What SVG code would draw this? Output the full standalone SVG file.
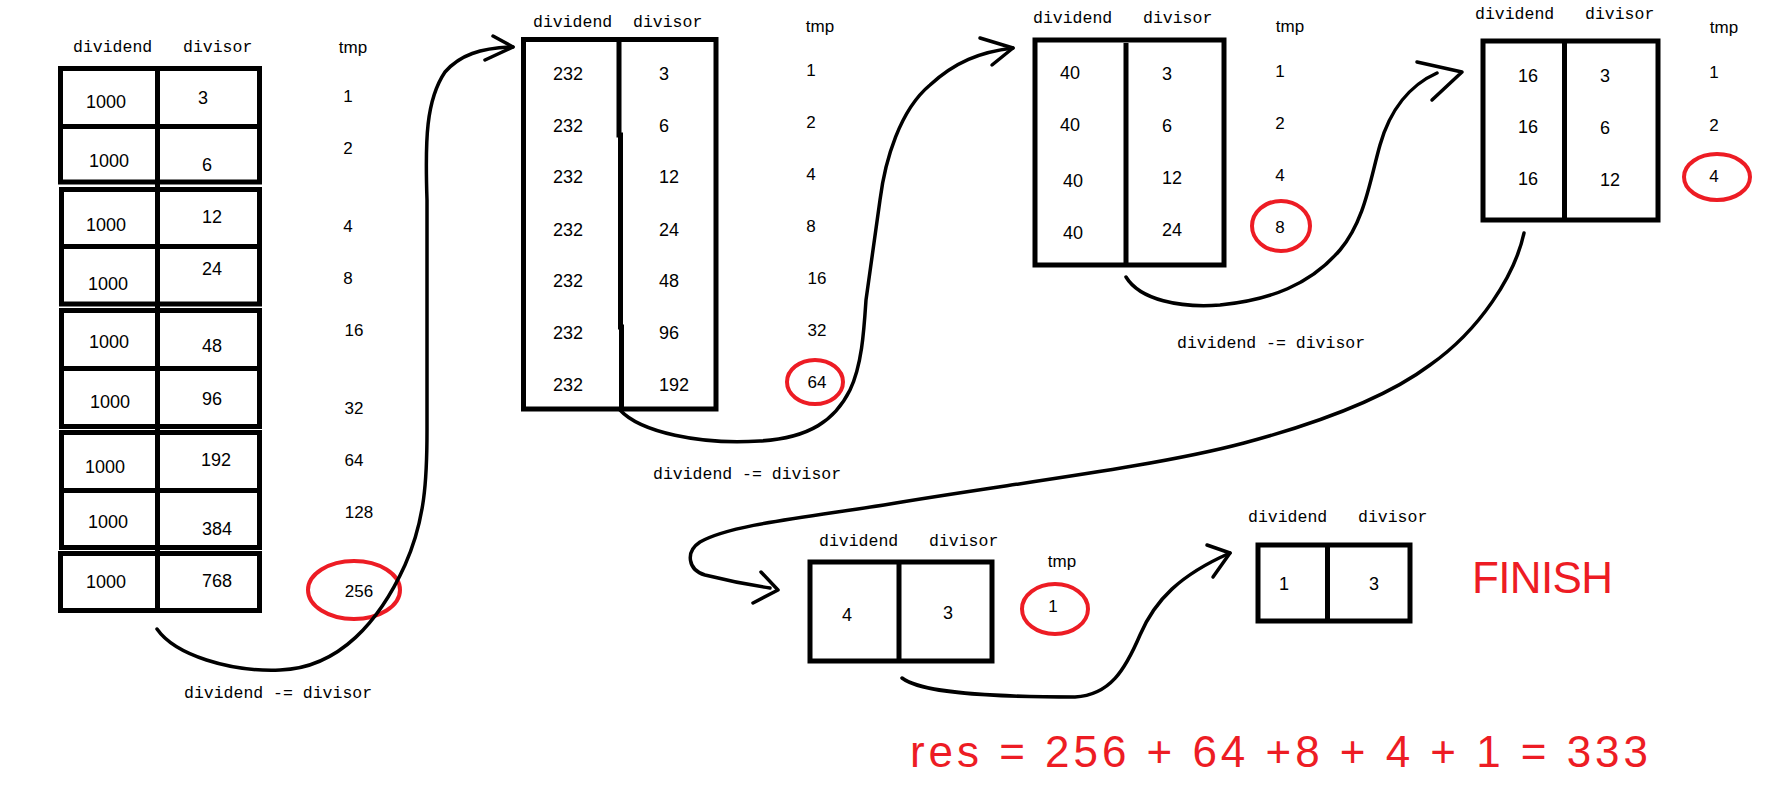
<svg xmlns="http://www.w3.org/2000/svg" width="1771" height="788" viewBox="0 0 1771 788">
<style>
  .bg{fill:#ffffff}
  .box{fill:none;stroke:#000;stroke-width:5}
  .div{stroke:#000;stroke-width:5;fill:none}
  .hdr{font-family:"Liberation Mono","DejaVu Sans Mono",monospace;font-size:16.5px;fill:#000}
  .tmp{font-family:"Liberation Sans",Arial,sans-serif;font-size:17px;fill:#000;text-anchor:middle}
  .num{font-family:"Liberation Sans",Arial,sans-serif;font-size:18px;fill:#000;text-anchor:middle}
  .hl{fill:none;stroke:#ED1C24;stroke-width:4}
  .conn{fill:none;stroke:#000;stroke-width:3.5;stroke-linecap:round;stroke-linejoin:round}
  .red{font-family:"Liberation Sans",Arial,sans-serif;font-size:44px;fill:#ED1C24}
</style>
<rect class="bg" x="0" y="0" width="1771" height="788"/>

<g id="table1">
  <text class="hdr" x="73" y="52">dividend</text>
  <text class="hdr" x="183" y="52">divisor</text>
  <text class="tmp" x="353" y="53">tmp</text>
  <rect class="box" x="60.5" y="68.5" width="199" height="113.5"/>
  <line class="div" x1="60.5" y1="126.5" x2="259.5" y2="126.5"/>
  <rect class="box" x="61.5" y="189.5" width="198" height="114.5"/>
  <line class="div" x1="61.5" y1="246.5" x2="259.5" y2="246.5"/>
  <rect class="box" x="61.5" y="310.5" width="198" height="116"/>
  <line class="div" x1="61.5" y1="368.5" x2="259.5" y2="368.5"/>
  <rect class="box" x="61.5" y="432.5" width="198" height="115"/>
  <line class="div" x1="61.5" y1="490.5" x2="259.5" y2="490.5"/>
  <rect class="box" x="60.5" y="553.5" width="199" height="57"/>
  <line class="div" x1="157.5" y1="68.5" x2="157.5" y2="612"/>
  <text class="num" x="106" y="108">1000</text><text class="num" x="203" y="104">3</text>
  <text class="num" x="109" y="167">1000</text><text class="num" x="207" y="171">6</text>
  <text class="num" x="106" y="231">1000</text><text class="num" x="212" y="223">12</text>
  <text class="num" x="108" y="290">1000</text><text class="num" x="212" y="275">24</text>
  <text class="num" x="109" y="348">1000</text><text class="num" x="212" y="352">48</text>
  <text class="num" x="110" y="408">1000</text><text class="num" x="212" y="405">96</text>
  <text class="num" x="105" y="473">1000</text><text class="num" x="216" y="466">192</text>
  <text class="num" x="108" y="528">1000</text><text class="num" x="217" y="535">384</text>
  <text class="num" x="106" y="588">1000</text><text class="num" x="217" y="587">768</text>
  <text class="tmp" x="348" y="102">1</text>
  <text class="tmp" x="348" y="154">2</text>
  <text class="tmp" x="348" y="232">4</text>
  <text class="tmp" x="348" y="284">8</text>
  <text class="tmp" x="354" y="336">16</text>
  <text class="tmp" x="354" y="414">32</text>
  <text class="tmp" x="354" y="466">64</text>
  <text class="tmp" x="359" y="518">128</text>
  <text class="tmp" x="359" y="597">256</text>
  <ellipse class="hl" cx="354" cy="590" rx="46" ry="29"/>
  <text class="hdr" x="184" y="698">dividend -= divisor</text>
</g>

<g id="table2">
  <text class="hdr" x="533" y="27">dividend</text>
  <text class="hdr" x="633" y="27">divisor</text>
  <text class="tmp" x="820" y="32">tmp</text>
  <rect class="box" x="523.5" y="39.5" width="192.5" height="369.5"/>
  <path class="div" d="M619,39.5 L619,135 L620.5,135 L620.5,327 L621.5,327 L621.5,411"/>
  <text class="num" x="568" y="80">232</text><text class="num" x="664" y="80">3</text>
  <text class="num" x="568" y="132">232</text><text class="num" x="664" y="132">6</text>
  <text class="num" x="568" y="183">232</text><text class="num" x="669" y="183">12</text>
  <text class="num" x="568" y="236">232</text><text class="num" x="669" y="236">24</text>
  <text class="num" x="568" y="287">232</text><text class="num" x="669" y="287">48</text>
  <text class="num" x="568" y="339">232</text><text class="num" x="669" y="339">96</text>
  <text class="num" x="568" y="391">232</text><text class="num" x="674" y="391">192</text>
  <text class="tmp" x="811" y="76">1</text>
  <text class="tmp" x="811" y="128">2</text>
  <text class="tmp" x="811" y="180">4</text>
  <text class="tmp" x="811" y="232">8</text>
  <text class="tmp" x="817" y="284">16</text>
  <text class="tmp" x="817" y="336">32</text>
  <text class="tmp" x="817" y="388">64</text>
  <ellipse class="hl" cx="815" cy="382" rx="28" ry="22"/>
  <text class="hdr" x="653" y="479">dividend -= divisor</text>
</g>

<g id="table3">
  <text class="hdr" x="1033" y="23">dividend</text>
  <text class="hdr" x="1143" y="23">divisor</text>
  <text class="tmp" x="1290" y="32">tmp</text>
  <rect class="box" x="1035" y="40" width="189" height="225"/>
  <line class="div" x1="1126" y1="43" x2="1126" y2="265"/>
  <text class="num" x="1070" y="79">40</text><text class="num" x="1167" y="80">3</text>
  <text class="num" x="1070" y="131">40</text><text class="num" x="1167" y="132">6</text>
  <text class="num" x="1073" y="187">40</text><text class="num" x="1172" y="184">12</text>
  <text class="num" x="1073" y="239">40</text><text class="num" x="1172" y="236">24</text>
  <text class="tmp" x="1280" y="77">1</text>
  <text class="tmp" x="1280" y="129">2</text>
  <text class="tmp" x="1280" y="181">4</text>
  <text class="tmp" x="1280" y="233">8</text>
  <ellipse class="hl" cx="1281" cy="226" rx="29" ry="25"/>
  <text class="hdr" x="1177" y="348">dividend -= divisor</text>
</g>

<g id="table4">
  <text class="hdr" x="1475" y="19">dividend</text>
  <text class="hdr" x="1585" y="19">divisor</text>
  <text class="tmp" x="1724" y="33">tmp</text>
  <rect class="box" x="1483" y="41" width="175" height="179"/>
  <line class="div" x1="1564.5" y1="41" x2="1564.5" y2="220"/>
  <text class="num" x="1528" y="82">16</text><text class="num" x="1605" y="82">3</text>
  <text class="num" x="1528" y="133">16</text><text class="num" x="1605" y="134">6</text>
  <text class="num" x="1528" y="185">16</text><text class="num" x="1610" y="186">12</text>
  <text class="tmp" x="1714" y="78">1</text>
  <text class="tmp" x="1714" y="131">2</text>
  <text class="tmp" x="1714" y="182">4</text>
  <ellipse class="hl" cx="1717" cy="177" rx="33" ry="23"/>
</g>

<g id="table5">
  <text class="hdr" x="819" y="546">dividend</text>
  <text class="hdr" x="929" y="546">divisor</text>
  <text class="tmp" x="1062" y="567">tmp</text>
  <rect class="box" x="810" y="562" width="182" height="99"/>
  <line class="div" x1="899" y1="562" x2="899" y2="661"/>
  <text class="num" x="847" y="621">4</text>
  <text class="num" x="948" y="619">3</text>
  <text class="tmp" x="1053" y="612">1</text>
  <ellipse class="hl" cx="1055" cy="609" rx="33" ry="25"/>
</g>

<g id="table6">
  <text class="hdr" x="1248" y="522">dividend</text>
  <text class="hdr" x="1358" y="522">divisor</text>
  <rect class="box" x="1258" y="545" width="152" height="76"/>
  <line class="div" x1="1327.5" y1="545" x2="1327.5" y2="621"/>
  <text class="num" x="1284" y="590">1</text>
  <text class="num" x="1374" y="590">3</text>
</g>

<g id="finish">
  <text class="red" x="1472" y="593" textLength="141" lengthAdjust="spacing">FINISH</text>
</g>

<g id="result">
  <text class="red" x="910" y="767" textLength="738" lengthAdjust="spacing">res = 256 + 64 +8 + 4 + 1 = 333</text>
</g>

<g id="connectors">
  <path class="conn" d="M157,629 C175,655 230,672 280,670 C340,668 380,620 405,565 C425,520 427,480 427,430 L427,200 C425,140 426,100 445,72 C460,55 480,48 513,47"/>
  <path class="conn" d="M493,36 L513,47 L485,60"/>
  <path class="conn" d="M620,410 C640,432 700,445 760,441 C810,438 835,420 850,390 C862,365 864,330 866,300 L880,200 C885,160 900,110 930,85 C955,62 980,52 1013,48"/>
  <path class="conn" d="M980,38 L1013,48 L992,65"/>
  <path class="conn" d="M1126,277 C1140,300 1180,308 1220,305 C1270,300 1310,285 1340,250 C1365,220 1370,180 1380,145 C1390,110 1410,85 1437,73"/>
  <path class="conn" d="M1417,62 L1462,72 L1432,100"/>
  <path class="conn" d="M1524,233 C1515,275 1480,330 1430,365 C1390,395 1330,420 1244,443 C1150,468 1000,485 884,505 C800,518 730,525 700,542 C685,552 688,570 705,575 C725,580 750,585 770,588"/>
  <path class="conn" d="M761,572 L778,590 L753,603"/>
  <path class="conn" d="M902,678 C920,692 980,697 1075,697 C1110,695 1125,670 1140,635 C1155,600 1180,575 1230,553"/>
  <path class="conn" d="M1207,545 L1230,553 L1213,577"/>
</g>
</svg>
